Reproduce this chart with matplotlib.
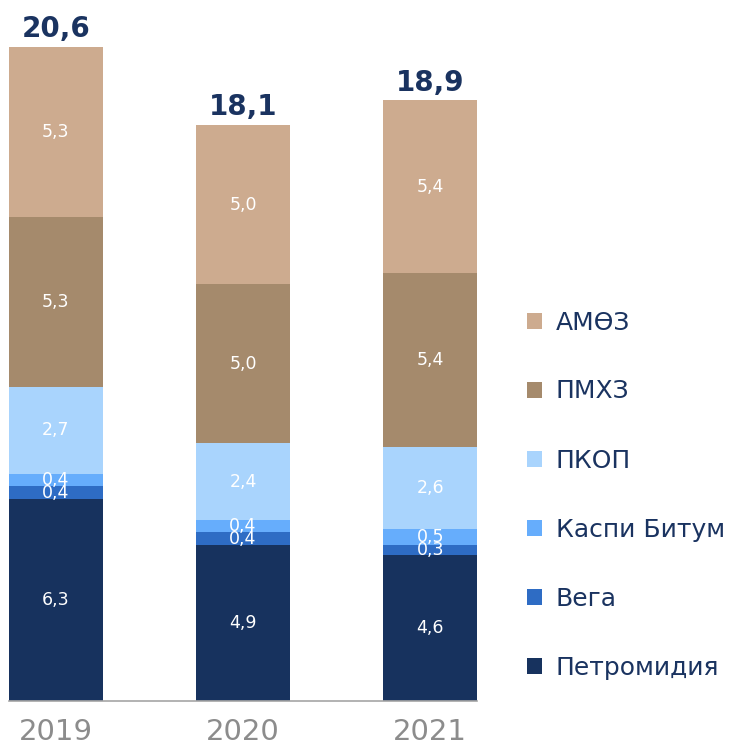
import matplotlib
matplotlib.use("Agg")
import matplotlib.pyplot as plt
import numpy as np

years = ["2019", "2020", "2021"]
series_names = ["Петромидия", "Вега", "Каспи Битум", "ПКОП", "ПМХЗ", "АМӨЗ"]
petromidia = [6.34, 4.9, 4.6]
vega = [0.42, 0.4, 0.3]
kaspi = [0.38, 0.4, 0.5]
pkop = [2.74, 2.4, 2.6]
pmhz = [5.34, 5.0, 5.44]
amoz = [5.34, 5.0, 5.44]

colors = ["#17325e", "#2e6cc4", "#66adfc", "#a9d4fd", "#a58a6c", "#cdab8f"]
navy = "#1a3360"

def fmt(v):
    return ("%.1f" % v).replace(".", ",")

fig = plt.figure(figsize=(7.29, 7.46), dpi=100)
ax = fig.add_axes([9 / 729, 45 / 746, 468 / 729, 668 / 746])

x = np.arange(len(years))
bottom = np.zeros(len(years))
handles = []
for name, vals, col in zip(series_names, [petromidia, vega, kaspi, pkop, pmhz, amoz], colors):
    vals = np.array(vals)
    bars = ax.bar(x, vals, 0.5, bottom=bottom, color=col, label=name)
    handles.append(bars)
    for xi, b, v in zip(x, bottom, vals):
        ax.text(xi, b + v / 2, fmt(v), ha="center", va="center",
                color="white", fontsize=12.5)
    bottom += vals

for xi, tot in zip(x, bottom):
    ax.text(xi, tot + 0.12, fmt(tot), ha="center", va="bottom",
            color=navy, fontsize=20, fontweight="bold")

ax.set_xlim(-0.25, 2.25)
ax.set_ylim(0, 21)
ax.set_yticks([])
ax.set_xticks(x)
ax.set_xticklabels(years, fontsize=21, color="#8c8c8c")
ax.tick_params(axis="x", length=0, pad=12)
for s in ["top", "right", "left"]:
    ax.spines[s].set_visible(False)
ax.spines["bottom"].set_color("#a6a6a6")
ax.spines["bottom"].set_linewidth(1.2)

leg = fig.legend(handles[::-1], series_names[::-1], loc="center left",
                 bbox_to_anchor=(527 / 729, 251 / 746), frameon=False,
                 fontsize=18, labelspacing=1.8, handlelength=0.6,
                 handleheight=0.6, handletextpad=0.55, borderpad=0, borderaxespad=0)
for t in leg.get_texts():
    t.set_color(navy)

fig.savefig("out.png", dpi=100)
